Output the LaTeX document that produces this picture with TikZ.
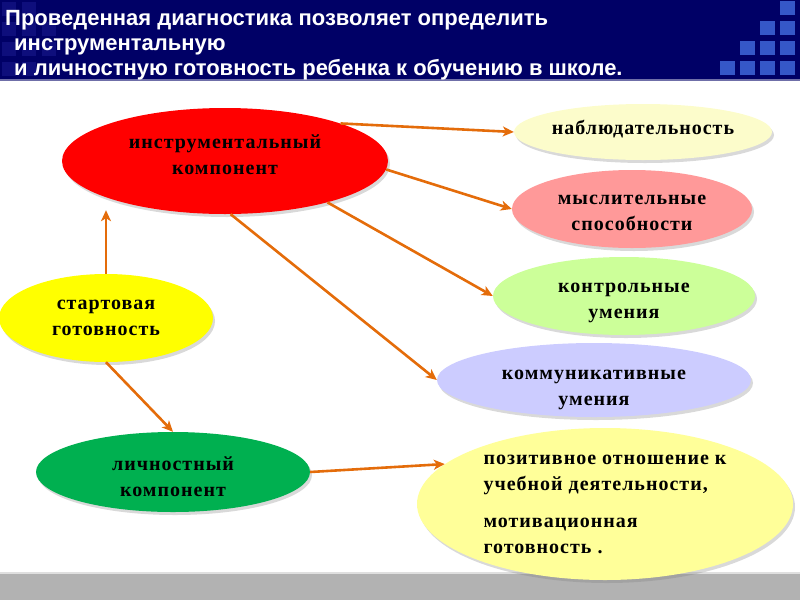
\documentclass[tikz,border=0pt]{standalone}
\usepackage{fontspec}
\setmainfont{Liberation Serif}
\newfontfamily\headfont{Liberation Sans}
\newfontfamily\ovalfont[LetterSpace=5]{Liberation Serif}
\usetikzlibrary{arrows.meta,positioning,shadows,shapes.geometric}
\definecolor{titlenavy}{HTML}{000066}
\definecolor{titleedge}{HTML}{6F6FA8}
\definecolor{cellblue}{HTML}{3557C8}
\definecolor{cellfaint}{HTML}{0E0E7C}
\definecolor{footgray}{HTML}{B2B2B2}
\definecolor{arroworange}{HTML}{E46C0A}
\definecolor{ovalred}{HTML}{FF0000}
\definecolor{ovalcream}{HTML}{FCFCCB}
\definecolor{ovalpink}{HTML}{FF9999}
\definecolor{ovallime}{HTML}{CCFF99}
\definecolor{ovallilac}{HTML}{CCCCFF}
\definecolor{ovalyellow}{HTML}{FFFF00}
\definecolor{ovalgreen}{HTML}{00B050}
\definecolor{ovallemon}{HTML}{FFFF99}
\tikzset{
  ovalbox/.style={ellipse,inner sep=0pt,
    drop shadow={shadow xshift=2pt,shadow yshift=-3pt,opacity=0.3}},
  ovaltext/.style={align=center,text=black,inner sep=0pt,
    font=\ovalfont\bfseries\fontsize{20}{26}\selectfont},
  flowarrow/.style={-{Stealth[length=11pt,width=10pt,inset=3pt]},line width=2.6pt,draw=arroworange},
  headtext/.style={anchor=north west,align=left,text=white,inner sep=0pt,
    font=\headfont\bfseries\fontsize{22}{25}\selectfont}
}
\begin{document}
\begin{tikzpicture}[x=1pt,y=-1pt,node distance=40pt and 40pt,on grid]
  \useasboundingbox (0,0) rectangle (800,600);
  \fill[titlenavy] (0,0) rectangle (800,79);
  \fill[titleedge] (0,79) rectangle (800,81);
  \foreach \cx/\cy in {0/2,0/22,0/42,0/62,20/2,20/22,20/42,20/62,40/22,40/42}
    \fill[cellfaint] (\cx+2,\cy) rectangle ++(14,14);
  \foreach \cx/\cy in {780/1,760/21,780/21,740/41,760/41,780/41,720/61,740/61,760/61,780/61}
    \fill[cellblue] (\cx,\cy) rectangle ++(15,14);
  \node[headtext] (title) at (5,10) {Проведенная диагностика позволяет определить\\
    \hspace*{9pt}инструментальную\\
    \hspace*{9pt}и личностную готовность ребенка к обучению в школе.};
  \fill[gray!25] (0,572) rectangle (800,574);
  \fill[footgray] (0,574) rectangle (800,600);

  \node[ovalbox,fill=ovalred,minimum width=326pt,minimum height=106pt,
    label={[ovaltext,yshift=6pt]center:{инструментальный\\компонент}}] (instr) at (225,161) {};
  \node[ovalbox,fill=ovalyellow,minimum width=214pt,minimum height=88pt,below left=157pt and 119pt of instr,
    label={[ovaltext]center:{стартовая\\готовность}}] (start) {};
  \node[ovalbox,fill=ovalgreen,minimum width=274pt,minimum height=80pt,below right=154pt and 67pt of start,
    label={[ovaltext,yshift=-5pt]center:{личностный\\компонент}}] (pers) {};
  \node[ovalbox,fill=ovalcream,minimum width=258pt,minimum height=56pt,above right=29pt and 418pt of instr,
    label={[ovaltext,yshift=3pt]center:{наблюдательность}}] (observ) {};
  \node[ovalbox,fill=ovalpink,minimum width=240pt,minimum height=78pt,below left=77pt and 11pt of observ,
    label={[ovaltext,yshift=-4pt]center:{мыслительные\\способности}}] (think) {};
  \node[ovalbox,fill=ovallime,minimum width=262pt,minimum height=78pt,below left=87pt and 8pt of think,
    label={[ovaltext,yshift=-7pt]center:{контрольные\\умения}}] (control) {};
  \node[ovalbox,fill=ovallilac,minimum width=314pt,minimum height=74pt,below left=84pt and 30pt of control,
    label={[ovaltext,yshift=-10pt]center:{коммуникативные\\умения}}] (commun) {};
  \node[ovalbox,fill=ovallemon,minimum width=376pt,minimum height=152pt,below right=124pt and 11pt of commun,
    label={[ovaltext]center:{\begin{tabular}{@{}l@{}}позитивное отношение к\\учебной деятельности,\\[11pt]мотивационная\\готовность .\end{tabular}}}] (motiv) {};

  \draw[flowarrow] (instr.18) -- (observ.west);
  \draw[flowarrow] (instr.-3) -- (think.west);
  \draw[flowarrow] (instr.-22) -- (control.west);
  \draw[flowarrow] (instr.-84) -- (commun.west);
  \draw[flowarrow] (start.north) -- ([yshift=4pt]start.north |- instr.south);
  \draw[flowarrow] (start.south) -- (pers.north);
  \draw[flowarrow] (pers.east) -- (motiv.166);
\end{tikzpicture}
\end{document}
